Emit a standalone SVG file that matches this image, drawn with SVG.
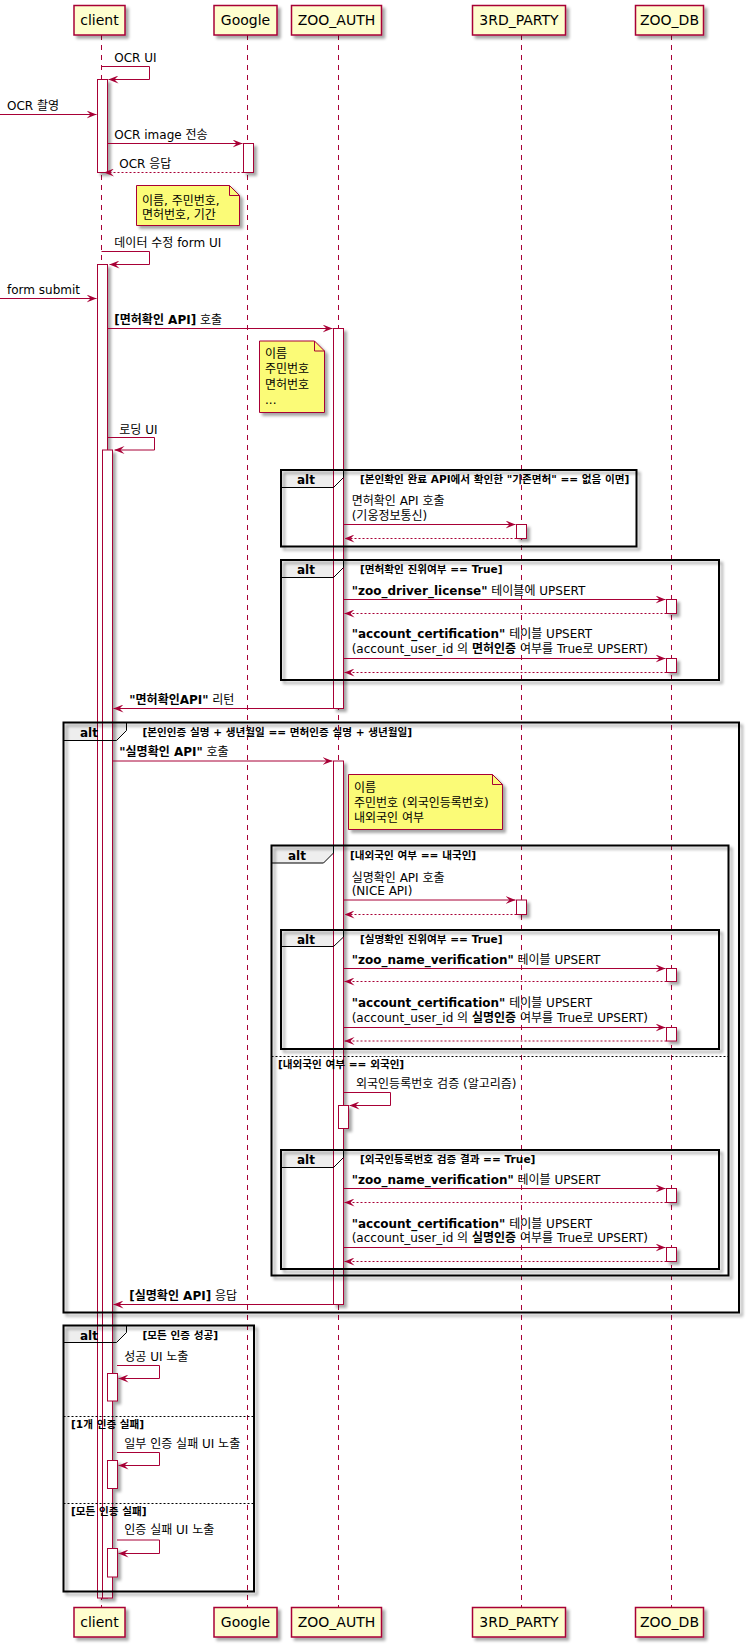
<svg xmlns="http://www.w3.org/2000/svg" width="751" height="1650" viewBox="0 0 751 1650">
<style>
  text { font-family: "DejaVu Sans", "Noto Sans CJK KR", sans-serif; fill: #000; }
  .pt { font-size: 14px; text-anchor: middle; }
  .m { font-size: 12px; }
  .c { font-size: 10.6px; font-weight: bold; }
  .a { font-size: 12px; font-weight: bold; }
  .b { font-weight: bold; }
  .part { fill: #FEFECE; stroke: #A80036; stroke-width: 1.5; }
  .life { stroke: #A80036; stroke-width: 1; stroke-dasharray: 5,5; fill: none; }
  .act { fill: #FFFFFF; stroke: #A80036; stroke-width: 1; }
  .msg { stroke: #A80036; stroke-width: 1; fill: none; }
  .ret { stroke-dasharray: 2,2; }
  .note { fill: #FBFB77; stroke: #A80036; stroke-width: 1; }
  .fold { fill: none; stroke: #A80036; stroke-width: 1; }
  .frame { fill: none; stroke: #000; stroke-width: 2; }
  .tab { fill: #EEEEEE; stroke: none; }
  .tabline { fill: none; stroke: #000; stroke-width: 1; }
  .sep { stroke: #000; stroke-width: 1; stroke-dasharray: 2,2; }
</style>
<defs>
  <filter id="sh" filterUnits="userSpaceOnUse" x="0" y="0" width="751" height="1650">
    <feGaussianBlur in="SourceAlpha" stdDeviation="1.5"/>
    <feOffset dx="3" dy="3"/>
    <feComponentTransfer><feFuncA type="linear" slope="0.35"/></feComponentTransfer>
    <feMerge><feMergeNode/><feMergeNode in="SourceGraphic"/></feMerge>
  </filter>
  <marker id="ah" viewBox="0 0 10 8" refX="10" refY="4" markerWidth="10" markerHeight="8" markerUnits="userSpaceOnUse" orient="auto">
    <path d="M0,0 L10,4 L0,8 L4,4 Z" fill="#A80036"/>
  </marker>
</defs>

<!-- alt header tab fills (under lifelines) -->
<g id="tab-fills">
  <polygon class="tab" points="281,470 343.5,470 343.5,477.5 333.5,487.5 281,487.5"/>
  <polygon class="tab" points="281,560 343.5,560 343.5,567.5 333.5,577.5 281,577.5"/>
  <polygon class="tab" points="63.5,722.5 126.5,722.5 126.5,730.5 116.5,740.5 63.5,740.5"/>
  <polygon class="tab" points="271.5,845.5 333.5,845.5 333.5,853 323.5,863 271.5,863"/>
  <polygon class="tab" points="281,930 343.5,930 343.5,937 333.5,946.5 281,946.5"/>
  <polygon class="tab" points="281,1150 343.5,1150 343.5,1157.5 333.5,1167.5 281,1167.5"/>
  <polygon class="tab" points="63.5,1325.5 126.5,1325.5 126.5,1332.5 116.5,1342.5 63.5,1342.5"/>
</g>

<!-- participants -->
<g id="client">
  <line class="life" x1="101.5" y1="35" x2="101.5" y2="1607"/>
  <rect class="part" x="74" y="5.5" width="51" height="29.5" filter="url(#sh)"/>
  <text class="pt" x="99.5" y="25">client</text>
  <rect class="part" x="74" y="1607.5" width="51" height="29.5" filter="url(#sh)"/>
  <text class="pt" x="99.5" y="1627">client</text>
</g>
<g id="google">
  <line class="life" x1="247.5" y1="35" x2="247.5" y2="1607"/>
  <rect class="part" x="214" y="5.5" width="63" height="29.5" filter="url(#sh)"/>
  <text class="pt" x="245.5" y="25">Google</text>
  <rect class="part" x="214" y="1607.5" width="63" height="29.5" filter="url(#sh)"/>
  <text class="pt" x="245.5" y="1627">Google</text>
</g>
<g id="zoo_auth">
  <line class="life" x1="338.5" y1="35" x2="338.5" y2="1607"/>
  <rect class="part" x="291.5" y="5.5" width="90" height="29.5" filter="url(#sh)"/>
  <text class="pt" x="336.5" y="25">ZOO_AUTH</text>
  <rect class="part" x="291.5" y="1607.5" width="90" height="29.5" filter="url(#sh)"/>
  <text class="pt" x="336.5" y="1627">ZOO_AUTH</text>
</g>
<g id="third_party">
  <line class="life" x1="521.5" y1="35" x2="521.5" y2="1607"/>
  <rect class="part" x="472.5" y="5.5" width="93" height="29.5" filter="url(#sh)"/>
  <text class="pt" x="519" y="25">3RD_PARTY</text>
  <rect class="part" x="472.5" y="1607.5" width="93" height="29.5" filter="url(#sh)"/>
  <text class="pt" x="519" y="1627">3RD_PARTY</text>
</g>
<g id="zoo_db">
  <line class="life" x1="671.5" y1="35" x2="671.5" y2="1607"/>
  <rect class="part" x="635.5" y="5.5" width="68" height="29.5" filter="url(#sh)"/>
  <text class="pt" x="669.5" y="25">ZOO_DB</text>
  <rect class="part" x="635.5" y="1607.5" width="68" height="29.5" filter="url(#sh)"/>
  <text class="pt" x="669.5" y="1627">ZOO_DB</text>
</g>

<!-- activation bars -->
<g id="activations" filter="url(#sh)">
  <rect class="act" x="97.5" y="79.5" width="10" height="93"/>
  <rect class="act" x="243.5" y="143.5" width="10" height="29"/>
  <rect class="act" x="97.5" y="264.5" width="10" height="1333.5"/>
  <rect class="act" x="333.5" y="328.5" width="10" height="380"/>
  <rect class="act" x="102.5" y="450" width="10" height="1148"/>
  <rect class="act" x="516.5" y="524.5" width="10" height="14"/>
  <rect class="act" x="666.5" y="599.5" width="10" height="14"/>
  <rect class="act" x="666.5" y="658.5" width="10" height="14"/>
  <rect class="act" x="333.5" y="761" width="10" height="543.5"/>
  <rect class="act" x="516.5" y="900" width="10" height="14.5"/>
  <rect class="act" x="666.5" y="968.5" width="10" height="13"/>
  <rect class="act" x="666.5" y="1027.5" width="10" height="13.5"/>
  <rect class="act" x="338.5" y="1105.5" width="10" height="23"/>
  <rect class="act" x="666.5" y="1188.5" width="10" height="14"/>
  <rect class="act" x="666.5" y="1247.5" width="10" height="14"/>
  <rect class="act" x="107.5" y="1373.5" width="10" height="27.5"/>
  <rect class="act" x="107.5" y="1460.5" width="10" height="28"/>
  <rect class="act" x="107.5" y="1548.5" width="10" height="28.5"/>
</g>

<!-- alt frames -->
<g id="alt-existing-license">
  <rect class="frame" x="281" y="470" width="355.5" height="76.5" filter="url(#sh)"/>
  <polyline class="tabline" points="281,487.5 333.5,487.5 343.5,477.5 343.5,470"/>
  <text class="a" x="297" y="483.5">alt</text>
  <text class="c" x="360" y="482.7">[본인확인 완료 API에서 확인한 "기존면허" == 없음 이면]</text>
</g>
<g id="alt-license-valid">
  <rect class="frame" x="281" y="560" width="438" height="120" filter="url(#sh)"/>
  <polyline class="tabline" points="281,577.5 333.5,577.5 343.5,567.5 343.5,560"/>
  <text class="a" x="297" y="573.5">alt</text>
  <text class="c" x="360" y="572.7">[면허확인 진위여부 == True]</text>
</g>
<g id="alt-identity-match">
  <rect class="frame" x="63.5" y="722.5" width="675.5" height="590" filter="url(#sh)"/>
  <polyline class="tabline" points="63.5,740.5 116.5,740.5 126.5,730.5 126.5,722.5"/>
  <text class="a" x="80" y="736.5">alt</text>
  <text class="c" x="142.5" y="736.2">[본인인증 실명 + 생년월일 == 면허인증 실명 + 생년월일]</text>
</g>
<g id="alt-nationality">
  <rect class="frame" x="271.5" y="845.5" width="457" height="430" filter="url(#sh)"/>
  <polyline class="tabline" points="271.5,863 323.5,863 333.5,853 333.5,845.5"/>
  <text class="a" x="288" y="859.5">alt</text>
  <text class="c" x="350" y="859.2">[내외국인 여부 == 내국인]</text>
  <line class="sep" x1="271.5" y1="1056.5" x2="728.5" y2="1056.5"/>
  <text class="c" x="278" y="1067.7">[내외국인 여부 == 외국인]</text>
</g>
<g id="alt-name-valid">
  <rect class="frame" x="281" y="930" width="438" height="119" filter="url(#sh)"/>
  <polyline class="tabline" points="281,946.5 333.5,946.5 343.5,937 343.5,930"/>
  <text class="a" x="297" y="943.5">alt</text>
  <text class="c" x="360" y="942.7">[실명확인 진위여부 == True]</text>
</g>
<g id="alt-foreigner-valid">
  <rect class="frame" x="281" y="1150" width="438" height="119" filter="url(#sh)"/>
  <polyline class="tabline" points="281,1167.5 333.5,1167.5 343.5,1157.5 343.5,1150"/>
  <text class="a" x="297" y="1163.5">alt</text>
  <text class="c" x="360" y="1163.2">[외국인등록번호 검증 결과 == True]</text>
</g>
<g id="alt-result">
  <rect class="frame" x="63.5" y="1325.5" width="190.5" height="266" filter="url(#sh)"/>
  <polyline class="tabline" points="63.5,1342.5 116.5,1342.5 126.5,1332.5 126.5,1325.5"/>
  <text class="a" x="80" y="1339.5">alt</text>
  <text class="c" x="142.5" y="1339.2">[모든 인증 성공]</text>
  <line class="sep" x1="63.5" y1="1416.5" x2="254" y2="1416.5"/>
  <text class="c" x="71" y="1427.7">[1개 인증 실패]</text>
  <line class="sep" x1="63.5" y1="1503.5" x2="254" y2="1503.5"/>
  <text class="c" x="71" y="1514.7">[모든 인증 실패]</text>
</g>

<!-- notes -->
<g id="note-ocr">
  <path class="note" d="M136.5,185.5 H229.5 L239.5,195.5 V225.5 H136.5 Z" filter="url(#sh)"/>
  <path class="fold" d="M229.5,185.5 V195.5 H239.5"/>
  <text class="m" x="142" y="204.5">이름, 주민번호,</text>
  <text class="m" x="142" y="219">면허번호, 기간</text>
</g>
<g id="note-license">
  <path class="note" d="M259.5,341 H314.5 L324.5,351 V412.5 H259.5 Z" filter="url(#sh)"/>
  <path class="fold" d="M314.5,341 V351 H324.5"/>
  <text class="m" x="265" y="358">이름</text>
  <text class="m" x="265" y="373.2">주민번호</text>
  <text class="m" x="265" y="388.5">면허번호</text>
  <text class="m" x="265" y="403.8">...</text>
</g>
<g id="note-name">
  <path class="note" d="M348.5,774.5 H492.5 L502.5,784.5 V829.5 H348.5 Z" filter="url(#sh)"/>
  <path class="fold" d="M492.5,774.5 V784.5 H502.5"/>
  <text class="m" x="354" y="791.8">이름</text>
  <text class="m" x="354" y="807">주민번호 (외국인등록번호)</text>
  <text class="m" x="354" y="822.2">내외국인 여부</text>
</g>

<!-- messages -->
<g id="connectors">
  <path class="msg" d="M101.5,66.5 H149.5 V79.5 H108.5" marker-end="url(#ah)"/>
  <text class="m" x="114.3" y="61.5">OCR UI</text>

  <line class="msg" x1="0" y1="114.5" x2="96.5" y2="114.5" marker-end="url(#ah)"/>
  <text class="m" x="7" y="109.5">OCR 촬영</text>

  <line class="msg" x1="107.5" y1="143.5" x2="242.5" y2="143.5" marker-end="url(#ah)"/>
  <text class="m" x="114.3" y="139">OCR image 전송</text>

  <line class="msg ret" x1="243.5" y1="172.5" x2="104" y2="172.5" marker-end="url(#ah)"/>
  <text class="m" x="119.3" y="168">OCR 응답</text>

  <path class="msg" d="M101.5,251.5 H149.5 V264.5 H109.5" marker-end="url(#ah)"/>
  <text class="m" x="114.3" y="246.8">데이터 수정 form UI</text>

  <line class="msg" x1="0" y1="298.5" x2="96.5" y2="298.5" marker-end="url(#ah)"/>
  <text class="m" x="7" y="293.8">form submit</text>

  <line class="msg" x1="107.5" y1="328.5" x2="332.5" y2="328.5" marker-end="url(#ah)"/>
  <text class="m" x="114.3" y="323.8"><tspan class="b">[면허확인 API]</tspan> 호출</text>

  <path class="msg" d="M107.5,437.5 H154.5 V450 H114.5" marker-end="url(#ah)"/>
  <text class="m" x="119.3" y="433.5">로딩 UI</text>

  <line class="msg" x1="343.5" y1="524.5" x2="515.5" y2="524.5" marker-end="url(#ah)"/>
  <text class="m" x="351.7" y="504.5">면허확인 API 호출</text>
  <text class="m" x="351.7" y="519.5">(기웅정보통신)</text>
  <line class="msg ret" x1="516.5" y1="538.5" x2="344.5" y2="538.5" marker-end="url(#ah)"/>

  <line class="msg" x1="343.5" y1="599.5" x2="665.5" y2="599.5" marker-end="url(#ah)"/>
  <text class="m" x="351.7" y="595.2"><tspan class="b">"zoo_driver_license"</tspan> 테이블에 UPSERT</text>
  <line class="msg ret" x1="666.5" y1="613.5" x2="344.5" y2="613.5" marker-end="url(#ah)"/>

  <line class="msg" x1="343.5" y1="658.5" x2="665.5" y2="658.5" marker-end="url(#ah)"/>
  <text class="m" x="351.7" y="637.8"><tspan class="b">"account_certification"</tspan> 테이블 UPSERT</text>
  <text class="m" x="351.7" y="652.8">(account_user_id 의 <tspan class="b">면허인증</tspan> 여부를 True로 UPSERT)</text>
  <line class="msg ret" x1="666.5" y1="672.5" x2="344.5" y2="672.5" marker-end="url(#ah)"/>

  <line class="msg" x1="333.5" y1="708.5" x2="113.5" y2="708.5" marker-end="url(#ah)"/>
  <text class="m" x="129.3" y="703.8"><tspan class="b">"면허확인API"</tspan> 리턴</text>

  <line class="msg" x1="112.5" y1="761" x2="332.5" y2="761" marker-end="url(#ah)"/>
  <text class="m" x="119.3" y="756.2"><tspan class="b">"실명확인 API"</tspan> 호출</text>

  <line class="msg" x1="343.5" y1="900" x2="515.5" y2="900" marker-end="url(#ah)"/>
  <text class="m" x="351.7" y="881.8">실명확인 API 호출</text>
  <text class="m" x="351.7" y="895.2">(NICE API)</text>
  <line class="msg ret" x1="516.5" y1="914.5" x2="344.5" y2="914.5" marker-end="url(#ah)"/>

  <line class="msg" x1="343.5" y1="968.5" x2="665.5" y2="968.5" marker-end="url(#ah)"/>
  <text class="m" x="351.7" y="963.8"><tspan class="b">"zoo_name_verification"</tspan> 테이블 UPSERT</text>
  <line class="msg ret" x1="666.5" y1="981.5" x2="344.5" y2="981.5" marker-end="url(#ah)"/>

  <line class="msg" x1="343.5" y1="1027.5" x2="665.5" y2="1027.5" marker-end="url(#ah)"/>
  <text class="m" x="351.7" y="1006.8"><tspan class="b">"account_certification"</tspan> 테이블 UPSERT</text>
  <text class="m" x="351.7" y="1021.8">(account_user_id 의 <tspan class="b">실명인증</tspan> 여부를 True로 UPSERT)</text>
  <line class="msg ret" x1="666.5" y1="1041" x2="344.5" y2="1041" marker-end="url(#ah)"/>

  <path class="msg" d="M343.5,1092.5 H390.5 V1105.5 H349.5" marker-end="url(#ah)"/>
  <text class="m" x="356" y="1087.8">외국인등록번호 검증 (알고리즘)</text>

  <line class="msg" x1="343.5" y1="1188.5" x2="665.5" y2="1188.5" marker-end="url(#ah)"/>
  <text class="m" x="351.7" y="1183.8"><tspan class="b">"zoo_name_verification"</tspan> 테이블 UPSERT</text>
  <line class="msg ret" x1="666.5" y1="1202.5" x2="344.5" y2="1202.5" marker-end="url(#ah)"/>

  <line class="msg" x1="343.5" y1="1247.5" x2="665.5" y2="1247.5" marker-end="url(#ah)"/>
  <text class="m" x="351.7" y="1227.8"><tspan class="b">"account_certification"</tspan> 테이블 UPSERT</text>
  <text class="m" x="351.7" y="1242.2">(account_user_id 의 <tspan class="b">실명인증</tspan> 여부를 True로 UPSERT)</text>
  <line class="msg ret" x1="666.5" y1="1261.5" x2="344.5" y2="1261.5" marker-end="url(#ah)"/>

  <line class="msg" x1="333.5" y1="1304.5" x2="113.5" y2="1304.5" marker-end="url(#ah)"/>
  <text class="m" x="129.3" y="1299.5"><tspan class="b">[실명확인 API]</tspan> 응답</text>

  <path class="msg" d="M117,1365.5 H159.5 V1378.5 H118.5" marker-end="url(#ah)"/>
  <text class="m" x="124.3" y="1361.2">성공 UI 노출</text>

  <path class="msg" d="M117,1452.5 H159.5 V1465.5 H118.5" marker-end="url(#ah)"/>
  <text class="m" x="124.3" y="1447.8">일부 인증 실패 UI 노출</text>

  <path class="msg" d="M117,1540 H159.5 V1553.5 H118.5" marker-end="url(#ah)"/>
  <text class="m" x="124.3" y="1533.8">인증 실패 UI 노출</text>
</g>
</svg>
